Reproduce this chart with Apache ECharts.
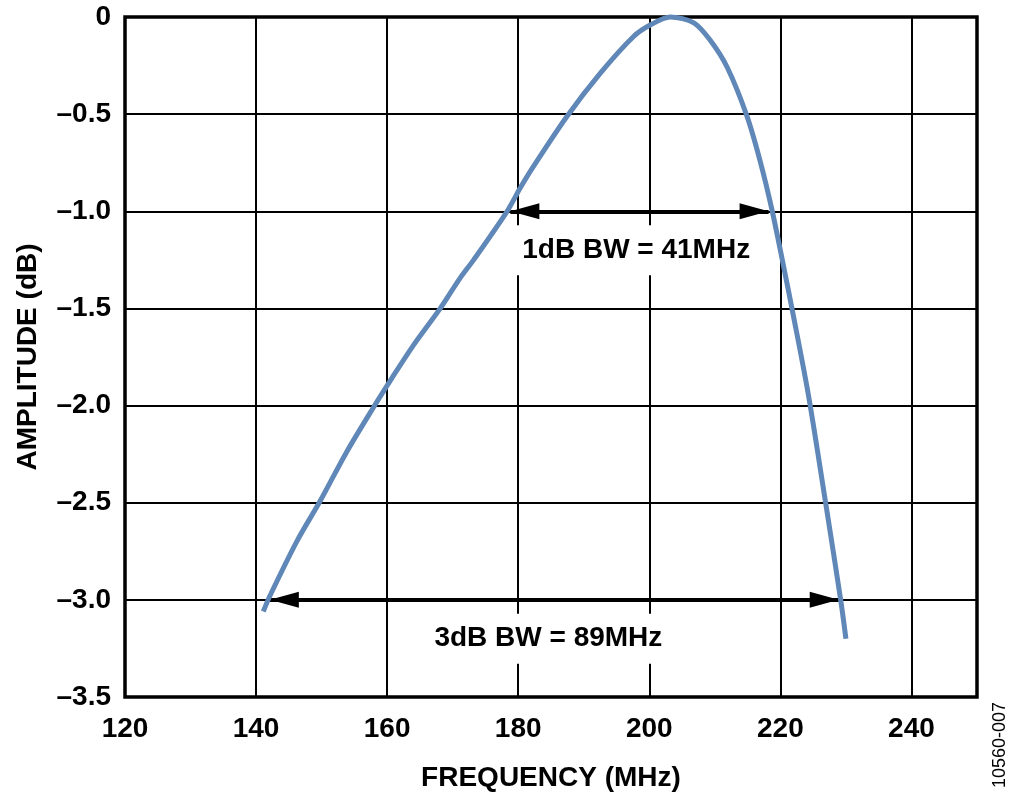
<!DOCTYPE html>
<html>
<head>
<meta charset="utf-8">
<script src="https://cdn.jsdelivr.net/npm/echarts@6/dist/echarts.min.js"></script>
<style>
  html, body { margin: 0; padding: 0; background: #fff; }
  #chart { width: 1024px; height: 804px; }
</style>
</head>
<body>
<div id="chart"></div>
<script>
"use strict";
const FONT = "'Liberation Sans', Arial, sans-serif";
const CURVE = "#5F87B7";

// ---- data ----
const freqMHz = [141.1, 142.1, 146.2, 149.8, 153.8, 157.9, 160.7, 164.0, 168.1, 171.1,
                 173.2, 178.3, 180.3, 182.3, 187.4, 192.5, 197.6, 200.2, 203.2, 206.8,
                 209.3, 211.9, 214.9, 216.9, 218.7, 220.5, 222.0, 224.3, 226.9, 229.2, 230.0];
const ampDb = [-3.06, -2.98, -2.70, -2.49, -2.24, -2.01, -1.86, -1.69, -1.50, -1.345,
               -1.25, -1.0, -0.88, -0.77, -0.513, -0.29, -0.10, -0.04, 0.0, -0.03,
               -0.12, -0.26, -0.51, -0.74, -0.99, -1.285, -1.54, -1.95, -2.50, -3.0, -3.20];

// bandwidth markers: level, left edge, right edge
const bwLevels = [-1, -3];
const bwLeft = [178.8, 142.1];
const bwRight = [218.2, 228.9];
const bwText = ["1dB BW = 41MHz", "3dB BW = 89MHz"];
const bwTextAt = [[198.0, -1.2], [184.6, -3.2]];

const xRange = [120, 250], xStep = 20;
const yRange = [-3.5, 0], yStep = 0.5;

// arrowhead: tip at the symbol centre, base 29px behind it
const HEAD = "path://M0,-29L0,-29Z M0,0L8,29L-8,29Z";

const chart = echarts.init(document.getElementById("chart"), null, { renderer: "canvas" });

chart.setOption({
  animation: false,
  backgroundColor: "#fff",
  textStyle: { fontFamily: FONT },
  grid: { left: 125, right: 47, top: 17, bottom: 107, show: true,
          borderColor: "#000", borderWidth: 3.5, backgroundColor: "transparent" },
  xAxis: {
    type: "value", min: xRange[0], max: xRange[1], interval: xStep,
    name: "FREQUENCY (MHz)", nameLocation: "middle", nameGap: 67,
    nameTextStyle: { fontFamily: FONT, fontWeight: "bold", fontSize: 28, color: "#000" },
    axisLine: { show: false }, axisTick: { show: false },
    axisLabel: { margin: 18, showMaxLabel: false, fontFamily: FONT, fontWeight: "bold",
                 fontSize: 28, color: "#000" },
    splitLine: { show: true, lineStyle: { color: "#000", width: 2 } }
  },
  yAxis: {
    type: "value", min: yRange[0], max: yRange[1], interval: yStep,
    name: "AMPLITUDE (dB)", nameLocation: "middle", nameGap: 83,
    nameTextStyle: { fontFamily: FONT, fontWeight: "bold", fontSize: 28, color: "#000" },
    axisLine: { show: false }, axisTick: { show: false },
    axisLabel: { margin: 14, fontFamily: FONT, fontWeight: "bold", fontSize: 28, color: "#000",
                 formatter: (v) => v === 0 ? "0" : "\u2013" + Math.abs(v).toFixed(1) },
    splitLine: { show: true, lineStyle: { color: "#000", width: 2 } }
  },
  graphic: [{
    type: "text", x: 1000, y: 745, rotation: Math.PI / 2,
    style: { text: "10560-007", fontFamily: FONT, fontSize: 18, fill: "#000",
             align: "center", verticalAlign: "middle" }
  }],
  series: [
    { // text boxes knock out the grid behind them
      type: "scatter", z: 3, symbolSize: 0, silent: true,
      itemStyle: { opacity: 1 },
      data: bwTextAt.map((p, i) => ({ value: p, name: bwText[i] })),
      label: { show: true, position: "inside", formatter: (p) => p.name, opacity: 1,
               fontFamily: FONT, fontWeight: "bold", fontSize: 28, color: "#000",
               backgroundColor: "#fff", padding: [11, 8] }
    },
    {
      type: "line", z: 4, silent: true, data: [],
      markLine: {
        silent: true, symbol: [HEAD, HEAD], symbolSize: [16, 58],
        label: { show: false },
        lineStyle: { color: "#000", width: 4, type: "solid", opacity: 1 },
        data: bwLevels.map((lv, i) => [{ coord: [bwLeft[i], lv] }, { coord: [bwRight[i], lv] }])
      }
    },
    {
      type: "line", z: 5, clip: false, showSymbol: false, smooth: 0.3,
      data: freqMHz.map((f, i) => [f, ampDb[i]]),
      lineStyle: { color: CURVE, width: 5 }, itemStyle: { color: CURVE }
    }
  ]
});
</script>
</body>
</html>
